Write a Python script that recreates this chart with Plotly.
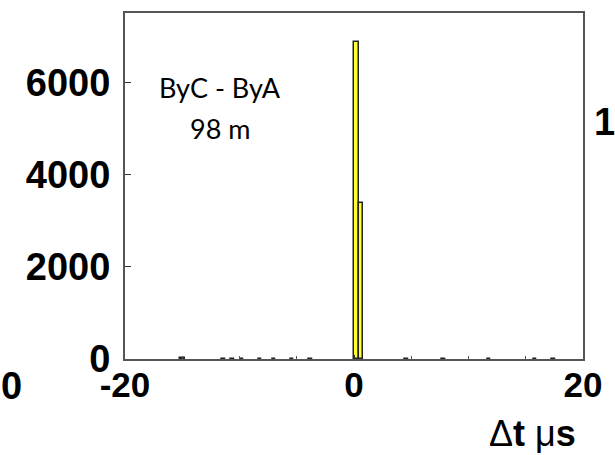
import plotly.graph_objects as go

# Time-difference histogram between two stations (ByC - ByA), bin width 0.4 us
bin_width = 0.4
bin_centers = [-15.0, -11.4, -10.6, -9.8, -8.2, -7.0, -5.4, -3.8,
               0.2, 0.6,
               4.6, 7.8, 11.8, 15.8, 17.4]
counts = [12, 8, 10, 9, 6, 8, 10, 6,
          6890, 3390,
          8, 6, 7, 10, 6]

x_ticks = [-20, 0, 20]
y_ticks = [0, 2000, 4000, 6000]
x_range = [-20, 20]
y_range = [0, 7520]

label_font = dict(family="Liberation Sans, Arial, sans-serif", size=38,
                  color="black", weight="bold")

fig = go.Figure()
fig.add_trace(go.Bar(
    x=bin_centers, y=counts, width=bin_width,
    marker=dict(color="#ffff33", line=dict(color="#222222", width=1.5)),
    showlegend=False,
))

W, H = 615, 455
L, R, T, B = 125, 32, 13, 96
pw, ph = W - L - R, H - T - B

fig.update_layout(
    width=W, height=H,
    margin=dict(l=L, r=R, t=T, b=B),
    paper_bgcolor="white", plot_bgcolor="white",
    bargap=0,
)
fig.update_xaxes(
    range=x_range, tickvals=x_ticks, ticktext=["-20", "0", "20"],
    tickfont=dict(family="Liberation Sans, Arial, sans-serif", size=35,
                  color="black", weight="bold"),
    ticks="inside", ticklen=4, tickcolor="#333", ticklabelstandoff=-6,
    showgrid=False, zeroline=False,
    showline=True, linecolor="#555555", linewidth=2, mirror=True,
    minor=dict(tickvals=[-15, -10, -5, 5, 10, 15], ticks="inside", ticklen=3, tickcolor="#555"),
)
fig.update_yaxes(
    range=y_range, tickvals=y_ticks,
    tickfont=label_font,
    ticks="inside", ticklen=6, tickcolor="#333", ticklabelstandoff=5,
    showgrid=False, zeroline=False,
    showline=True, linecolor="#555555", linewidth=2, mirror=True,
)


def px(x, y):
    """Page pixel position -> paper coordinates."""
    return (x - L) / pw, 1 - (y - T) / ph


def label(txt, x0, y0, font, xanchor="center"):
    ax, ay = px(x0, y0)
    fig.add_annotation(x=ax, y=ay, xref="paper", yref="paper", text=txt,
                       showarrow=False, xanchor=xanchor, yanchor="middle",
                       font=font)


text_font = dict(family="Lato, Noto Sans, sans-serif", size=27, color="black")
label("ByC - ByA", 220, 88, text_font)
label("98 m", 220, 128, text_font)

label("Δ<b>t</b> μ<b>s</b>", 578, 433,
      dict(family="Liberation Sans, Arial, sans-serif", size=36, color="black"),
      xanchor="right")

# labels from neighbouring panels at the page edges
label("0", 11, 386, label_font)
label("1", 604, 122, label_font)

fig.write_html("out.html")
